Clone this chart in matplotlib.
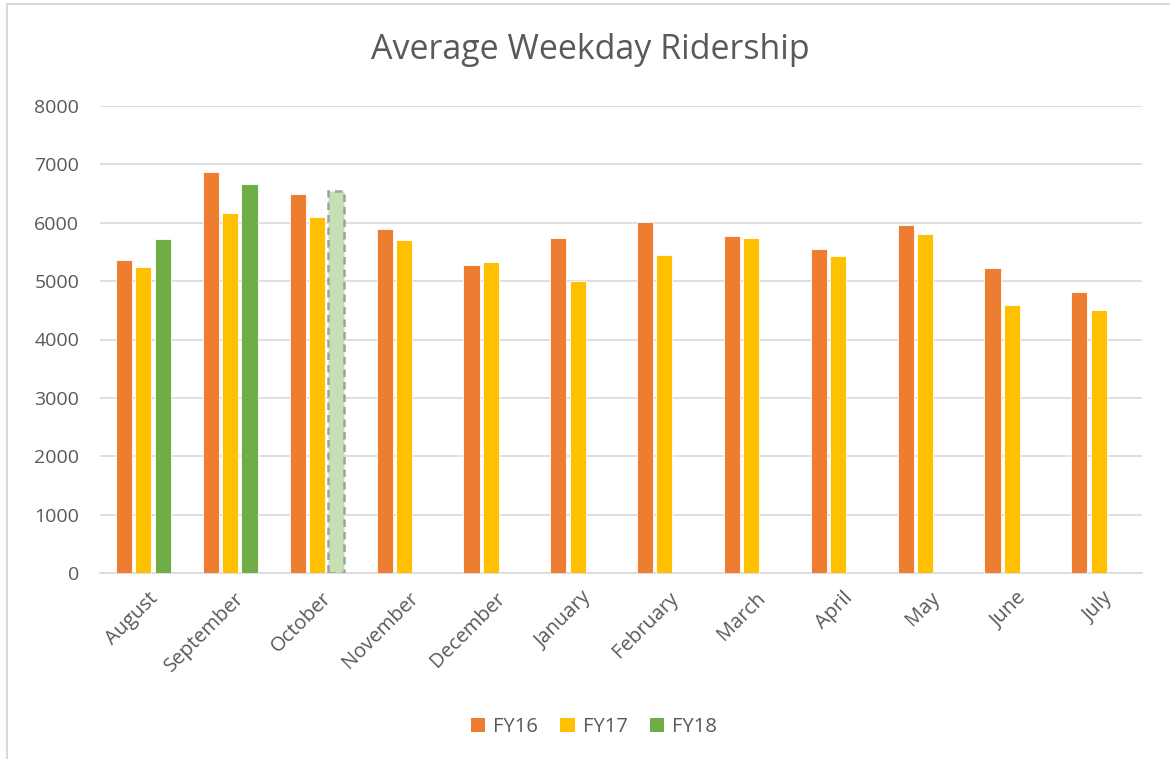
import matplotlib
matplotlib.use("Agg")
import matplotlib.pyplot as plt
import numpy as np
from matplotlib.patches import Rectangle, Patch

months = ["August", "September", "October", "November", "December", "January",
          "February", "March", "April", "May", "June", "July"]
fy16 = [5360, 6870, 6500, 5890, 5270, 5737, 6006, 5766, 5543, 5966, 5229, 4806]
fy17 = [5245, 6160, 6091, 5698, 5320, 5005, 5451, 5740, 5429, 5811, 4583, 4497]
fy18 = [5715, 6657, 6547, np.nan, np.nan, np.nan, np.nan, np.nan, np.nan, np.nan, np.nan, np.nan]
series_names = ["FY16", "FY17", "FY18"]
yticks = [0, 1000, 2000, 3000, 4000, 5000, 6000, 7000, 8000]

plt.rcParams['font.family'] = ['Open Sans', 'DejaVu Sans']
txt = "#595959"

fig = plt.figure(figsize=(11.70, 7.59), dpi=100)
ax = fig.add_axes([100/1170, 1-573/759, 1042/1170, (573-106)/759])

x = np.arange(len(months))
w = 0.185
off = 0.222
colors = ["#ED7D31", "#FFC000", "#70AD47"]
for i, (vals, c, name) in enumerate(zip([fy16, fy17, fy18], colors, series_names)):
    ax.bar(x + (i - 1) * off, vals, width=w, color=c, edgecolor="white",
           linewidth=0.6, label=name, zorder=3)

# projected October FY18 bar styling
oct_bar = ax.containers[2][2]
oct_bar.set_facecolor("#C5E0B4")
oct_bar.set_edgecolor("#A0A0A0")
oct_bar.set_linestyle((0, (3, 2)))
oct_bar.set_linewidth(1.8)

ax.set_xlim(-0.5, len(months) - 0.5)
ax.set_ylim(0, 8000)
ax.set_yticks(yticks)
ax.set_yticklabels([str(t) for t in yticks], fontsize=14, color=txt)
ax.yaxis.grid(True, color="#D9D9D9", linewidth=1.2, zorder=0)
ax.set_axisbelow(True)
ax.tick_params(axis="y", length=0, pad=15)
ax.tick_params(axis="x", length=0, pad=11)
ax.set_xticks(x + 0.05)
ax.set_xticklabels(months, rotation=45, ha="right", va="top",
                   rotation_mode="anchor", fontsize=14.5, color=txt)
for s in ["left", "right", "top"]:
    ax.spines[s].set_visible(False)
ax.spines["bottom"].set_color("#D9D9D9")
ax.spines["bottom"].set_linewidth(1.2)

fig.text(590/1170, 1-50/759, "Average Weekday Ridership", ha="center", va="center",
         fontsize=24.5, color=txt)

handles = [Patch(facecolor=c, edgecolor="none") for c in colors]
fig.legend(handles, series_names, loc="center", bbox_to_anchor=(594/1170, 1-727/759),
           ncol=3, frameon=False, fontsize=14.5, labelcolor=txt,
           handlelength=0.7, handleheight=0.7, handletextpad=0.4, columnspacing=1.1)

fig.patches.append(Rectangle((7/1170, -0.1), 1.2, 1 - 4/759 + 0.1, transform=fig.transFigure,
                             fill=False, edgecolor="#D9D9D9", linewidth=1.5))

fig.savefig("out.png", dpi=100)
